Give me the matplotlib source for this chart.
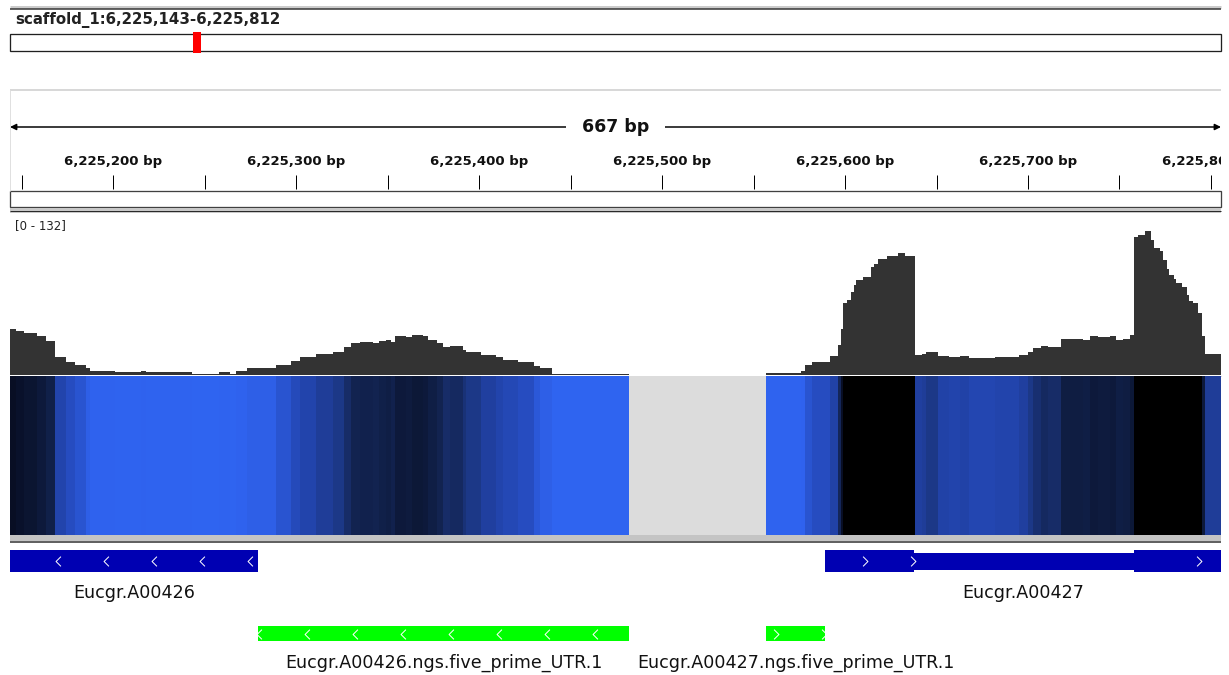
import numpy as np
import matplotlib.pyplot as plt
from matplotlib.colors import LinearSegmentedColormap, Normalize
from matplotlib.patches import Rectangle
from matplotlib.path import Path

plt.rcParams['font.family'] = ['DejaVu Sans']

W, H = 1229, 675
LEFT, RIGHT = 10, 1221

CHROM = "scaffold_1"
CHROM_LEN = 40_300_000
REGION_START = 6_225_143
REGION_END = 6_225_812
SPAN_LABEL = "667 bp"
VIEW = (6_225_143.5, 6_225_805.5)
BASE = 6_225_000

# read depth as steps: start offset from BASE and depth, last step ends at cov_end
cov_start = [143, 147, 151, 158, 163, 168, 174, 179, 185, 187, 201, 215, 218, 243,
             258, 264, 267, 273, 289, 297, 302, 311, 320, 326, 330, 335, 342, 345,
             349, 352, 354, 360, 363, 369, 372, 377, 380, 384, 391, 393, 401, 409,
             413, 421, 430, 433, 440, 482, 557, 576, 578, 582, 592, 596, 598, 599,
             601, 603, 605, 606, 610, 614, 616, 618, 623, 629, 633, 638, 642, 644,
             651, 657, 663, 668, 682, 695, 700, 703, 707, 711, 718, 730, 734, 738,
             745, 748, 752, 756, 758, 760, 764, 767, 769, 772, 774, 776, 777, 780,
             781, 784, 787, 788, 790, 793, 795, 797]
cov_depth = [42, 40, 38, 35, 31, 16, 12, 9, 6, 4, 3, 4, 3, 1,
             3, 1, 4, 6, 9, 13, 16, 19, 21, 25, 29, 30, 29, 31,
             32, 30, 35, 34, 36, 35, 32, 29, 25, 26, 23, 21, 18, 16,
             14, 12, 8, 6, 1, 0, 2, 4, 9, 12, 17, 27, 42, 65,
             68, 75, 81, 86, 89, 98, 100, 105, 108, 110, 108, 18, 19, 21,
             17, 16, 17, 15, 16, 18, 21, 24, 26, 25, 33, 32, 35, 34,
             35, 32, 33, 36, 125, 127, 130, 122, 115, 112, 104, 96, 90, 87,
             83, 80, 72, 67, 65, 56, 35, 19]
cov_end = 806
DATA_RANGE = (0, 132)

gene_names = ["Eucgr.A00426", "Eucgr.A00427"]
gene_strand = ["-", "+"]
gene_exons = [[(118, 279)], [(589, 637.5), (758, 830)]]
gene_thin = [[], [(637.5, 758)]]

utr_names = ["Eucgr.A00426.ngs.five_prime_UTR.1", "Eucgr.A00427.ngs.five_prime_UTR.1"]
utr_start = [279, 557]
utr_end = [482, 589]
utr_strand = ["-", "+"]

GENE_BLUE = "#0000B2"
UTR_GREEN = "#00FF00"
# first chevron inset (pixels) inside each block
gene_chevron_inset = [[95], [40, 65]]
utr_chevron_inset = [1, 10]

heat_cmap = LinearSegmentedColormap.from_list("depth", [
    (0.0, "#2F64F0"), (0.09, "#2F62EE"), (0.18, "#2850C8"), (0.30, "#2142A8"),
    (0.375, "#1C3888"), (0.48, "#142658"), (0.64, "#0C1838"), (0.75, "#080E24"),
    (1.0, "#000000")])
heat_cmap.set_bad("#DCDCDC")
heat_norm = Normalize(0, 56, clip=True)


def px_axes(x0, y0, x1, y1):
    ax = fig.add_axes([x0 / W, 1 - y1 / H, (x1 - x0) / W, (y1 - y0) / H])
    ax.axis("off")
    return ax


def px(n):
    # pixel widths to points
    return n * 0.72


fig = plt.figure(figsize=(W / 100, H / 100), dpi=100)

# frame lines and panel borders
chrome = fig.add_axes([0, 0, 1, 1])
chrome.set_xlim(0, W)
chrome.set_ylim(H, 0)
chrome.axis("off")
chrome.hlines(6.5, LEFT, RIGHT, color="#CCCCCC", lw=px(3))
chrome.hlines(9, LEFT, RIGHT, color="#333333", lw=px(1.5))
chrome.text(15, 20, f"{CHROM}:{REGION_START:,}-{REGION_END:,}", ha="left", va="center",
            fontsize=10.8, fontweight="bold", color="#222222")
chrome.hlines(90, LEFT, RIGHT, color="#D8D8D8", lw=px(2))
chrome.vlines(LEFT, 90, 191, color="#E0E0E0", lw=px(1))
chrome.add_patch(Rectangle((LEFT, 191), RIGHT - LEFT, 16, fc="white", ec="#404040", lw=px(1.3)))
chrome.add_patch(Rectangle((LEFT, 208), RIGHT - LEFT, 5, fc="#C8C8C8", ec="none"))
chrome.hlines(210.5, LEFT, RIGHT, color="#2A2A2A", lw=px(1))
chrome.text(15, 226, f"[{DATA_RANGE[0]} - {DATA_RANGE[1]}]", ha="left", va="center",
            fontsize=8.5, color="#222222")
chrome.hlines(375.5, LEFT, RIGHT, color="#BDBDBD", lw=px(1))
chrome.add_patch(Rectangle((LEFT, 535), RIGHT - LEFT, 6, fc="#C4C4C4", ec="none"))
chrome.hlines(542, LEFT, RIGHT, color="#2E2E2E", lw=px(1.5))

# chromosome ideogram with the current region marked
ideo = px_axes(LEFT, 34, RIGHT, 51)
ideo.set_xlim(0, CHROM_LEN)
ideo.set_ylim(0, 1)
ideo.add_patch(Rectangle((0, 0), 1, 1, transform=ideo.transAxes, fc="white",
                         ec="#202020", lw=px(1.3), clip_on=False))
half = 4 / (RIGHT - LEFT) * CHROM_LEN
mid = (REGION_START + REGION_END) / 2
ideo.add_patch(Rectangle((mid - half, -0.12), 2 * half, 1.24, fc="#FF0000", ec="none",
                         clip_on=False))

# genomic axis in bp, y in pixels
gax = px_axes(LEFT, 0, RIGHT, H)
gax.set_xlim(*VIEW)
gax.set_ylim(H, 0)

gax.annotate("", xy=(VIEW[1], 127), xytext=(VIEW[0], 127),
             arrowprops=dict(arrowstyle="<|-|>", color="black", lw=px(1.5),
                             mutation_scale=9, shrinkA=0, shrinkB=0))
gax.text(sum(VIEW) / 2, 127, SPAN_LABEL, ha="center", va="center", fontsize=12.5,
         fontweight="bold", color="#111111",
         bbox=dict(boxstyle="square,pad=0.9", fc="white", ec="none"))

ticks = np.arange(6_225_150, int(VIEW[1]), 50)
gax.vlines(ticks, 175, 189, color="black", lw=px(1))
for t in ticks:
    if t % 100 == 0:
        gax.text(t, 161, f"{int(t):,} bp", ha="center", va="center", fontsize=9.5,
                 fontweight="bold", color="#111111", clip_on=True)

# coverage bars
edges = BASE + np.array(cov_start + [cov_end], dtype=float)
depth = np.array(cov_depth, dtype=float)
cax = px_axes(LEFT, 229, RIGHT, 375)
cax.set_xlim(*VIEW)
cax.set_ylim(*DATA_RANGE)
cax.stairs(depth, edges, fill=True, color="#333333")

# depth heatmap
gax.pcolormesh(edges, [376, 535], np.ma.masked_equal(depth, 0)[np.newaxis, :],
               cmap=heat_cmap, norm=heat_norm, shading="flat")

# strand chevrons
left_mark = Path([(0.5, 1), (-0.5, 0), (0.5, -1)], [Path.MOVETO, Path.LINETO, Path.LINETO])
right_mark = Path([(-0.5, 1), (0.5, 0), (-0.5, -1)], [Path.MOVETO, Path.LINETO, Path.LINETO])
bp_per_px = (VIEW[1] - VIEW[0]) / (RIGHT - LEFT)


def chevrons(s, e, y, strand, inset):
    xs = BASE + np.arange(s + inset * bp_per_px, e, 48 * bp_per_px)
    xs = xs[(xs > VIEW[0] + 2) & (xs < VIEW[1] - 2)]
    gax.plot(xs, np.full(len(xs), y), ls="none",
             marker=left_mark if strand == "-" else right_mark, ms=7,
             mec="white", mfc="none", mew=px(1))


def label(s, e, y, text):
    vs, ve = max(BASE + s, VIEW[0]), min(BASE + e, VIEW[1])
    gax.text((vs + ve) / 2, y, text, ha="center", va="center", fontsize=12.6,
             color="#111111")


for name, strand, exons, thin, insets in zip(gene_names, gene_strand, gene_exons,
                                             gene_thin, gene_chevron_inset):
    for s, e in thin:
        gax.add_patch(Rectangle((BASE + s, 553), e - s, 17, fc=GENE_BLUE, ec="none"))
    for (s, e), inset in zip(exons, insets):
        gax.add_patch(Rectangle((BASE + s, 550), e - s, 22, fc=GENE_BLUE, ec="none"))
        chevrons(s, e, 561, strand, inset)
    lo = min(s for s, _ in exons + thin)
    hi = max(e for _, e in exons + thin)
    label(lo, hi, 593, name)

for name, s, e, strand, inset in zip(utr_names, utr_start, utr_end, utr_strand,
                                     utr_chevron_inset):
    gax.add_patch(Rectangle((BASE + s, 626), e - s, 15, fc=UTR_GREEN, ec="none"))
    chevrons(s, e, 633.5, strand, inset)
    label(s, e, 663, name)

fig.savefig("out.png", dpi=100)
